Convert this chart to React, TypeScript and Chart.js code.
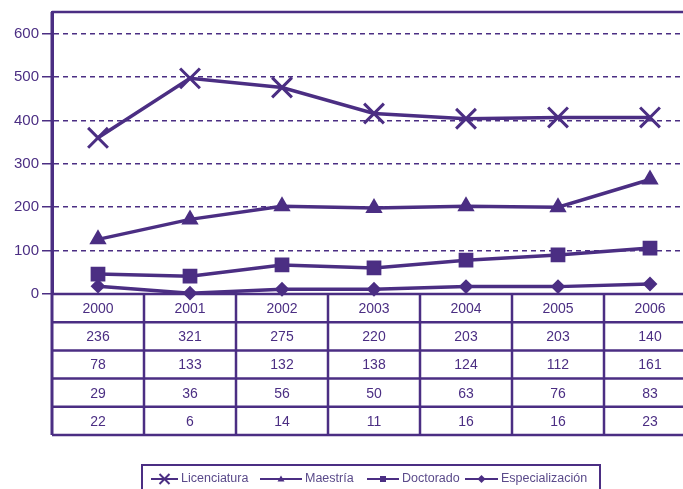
import { useEffect, useRef } from 'react';
import { Chart, registerables } from 'chart.js';
Chart.register(...registerables);

const years = ['2000', '2001', '2002', '2003', '2004', '2005', '2006'];
const licenciatura = [360, 497, 476, 416, 404, 407, 407];
const maestria = [126, 172, 202, 198, 202, 200, 264];
const doctorado = [46, 41, 67, 60, 78, 90, 106];
const especializacion = [18, 2, 11, 11, 17, 17, 23];
const seriesNames = ['Licenciatura', 'Maestría', 'Doctorado', 'Especialización'];
const tableRows = [
  [236, 321, 275, 220, 203, 203, 140],
  [78, 133, 132, 138, 124, 112, 161],
  [29, 36, 56, 50, 63, 76, 83],
  [22, 6, 14, 11, 16, 16, 23],
];
const yTicks = [0, 100, 200, 300, 400, 500, 600];

const PURPLE = '#4b2e83';
const FONT = '"Liberation Sans", Arial, sans-serif';
const ROW_H = 28.2;
const LEGEND_SYMBOL_X = [151, 260, 367, 465];
const LEGEND_SYMBOL_W = [27, 42, 32, 33];

function line(ctx: CanvasRenderingContext2D, x1: number, y1: number, x2: number, y2: number) {
  ctx.beginPath();
  ctx.moveTo(x1, y1);
  ctx.lineTo(x2, y2);
  ctx.stroke();
}

const tablePlugin = {
  id: 'tablePlugin',
  beforeDatasetsDraw(chart: any) {
    const { ctx, chartArea, scales } = chart;
    const x = scales.x;
    const left = chartArea.left;
    const right = chartArea.right;
    const top0 = chartArea.bottom;
    const nRows = 1 + tableRows.length;
    const bottom = top0 + nRows * ROW_H;
    ctx.save();
    ctx.strokeStyle = PURPLE;
    ctx.lineWidth = 2.5;
    line(ctx, left, chartArea.top, right, chartArea.top);
    for (let r = 0; r <= nRows; r++) {
      const y = top0 + r * ROW_H;
      line(ctx, left, y, right, y);
    }
    for (let i = 1; i < years.length; i++) {
      const xb = (x.getPixelForValue(i - 1) + x.getPixelForValue(i)) / 2;
      line(ctx, xb, top0, xb, bottom);
    }
    ctx.lineWidth = 3;
    line(ctx, left, chartArea.top, left, bottom);
    ctx.fillStyle = PURPLE;
    ctx.font = `14px ${FONT}`;
    ctx.textAlign = 'center';
    ctx.textBaseline = 'middle';
    years.forEach((yr, i) => {
      ctx.fillText(yr, x.getPixelForValue(i), top0 + ROW_H / 2 + 1);
    });
    tableRows.forEach((row, r) => {
      row.forEach((v, i) => {
        ctx.fillText(String(v), x.getPixelForValue(i), top0 + (r + 1.5) * ROW_H + 1);
      });
    });
    ctx.restore();
  },
  afterDraw(chart: any) {
    const { ctx } = chart;
    ctx.save();
    ctx.strokeStyle = PURPLE;
    ctx.lineWidth = 2;
    ctx.strokeRect(142, 465, 458, 40);
    const cy = 479;
    ctx.font = `12.5px ${FONT}`;
    ctx.textAlign = 'left';
    ctx.textBaseline = 'middle';
    chart.data.datasets.forEach((ds: any, i: number) => {
      const sx = LEGEND_SYMBOL_X[i];
      const sw = LEGEND_SYMBOL_W[i];
      ctx.strokeStyle = PURPLE;
      ctx.fillStyle = PURPLE;
      ctx.lineWidth = 2;
      line(ctx, sx, cy, sx + sw, cy);
      const cx = sx + sw / 2;
      const st = ds.pointStyle;
      ctx.beginPath();
      if (st === 'crossRot') {
        const r = 5;
        line(ctx, cx - r, cy - r, cx + r, cy + r);
        line(ctx, cx - r, cy + r, cx + r, cy - r);
      } else if (st === 'triangle') {
        ctx.moveTo(cx, cy - 3.5);
        ctx.lineTo(cx + 3.5, cy + 2.5);
        ctx.lineTo(cx - 3.5, cy + 2.5);
        ctx.closePath();
        ctx.fill();
      } else if (st === 'rect') {
        ctx.fillRect(cx - 3, cy - 3, 6, 6);
      } else {
        ctx.moveTo(cx, cy - 4);
        ctx.lineTo(cx + 4, cy);
        ctx.lineTo(cx, cy + 4);
        ctx.lineTo(cx - 4, cy);
        ctx.closePath();
        ctx.fill();
      }
      ctx.fillStyle = '#5a4a8a';
      ctx.fillText(ds.label, sx + sw + 3, cy);
    });
    ctx.restore();
  },
};

export default function App() {
  const ref = useRef<HTMLCanvasElement>(null);
  useEffect(() => {
    const common = {
      borderColor: PURPLE,
      backgroundColor: PURPLE,
      pointBorderColor: PURPLE,
      pointBackgroundColor: PURPLE,
      borderWidth: 3.5,
      tension: 0,
      clip: false as any,
    };
    const chart = new Chart(ref.current!, {
      type: 'line',
      data: {
        labels: years,
        datasets: [
          { ...common, label: seriesNames[0], data: licenciatura, pointStyle: 'crossRot', pointRadius: 14, pointBorderWidth: 3 },
          { ...common, label: seriesNames[1], data: maestria, pointStyle: 'triangle', pointRadius: 8, pointBorderWidth: 2 },
          { ...common, label: seriesNames[2], data: doctorado, pointStyle: 'rect', pointRadius: 9, pointBorderWidth: 2 },
          { ...common, label: seriesNames[3], data: especializacion, pointStyle: 'rectRot', pointRadius: 6, pointBorderWidth: 2 },
        ] as any,
      },
      options: {
        responsive: false,
        animation: false,
        layout: { autoPadding: false, padding: { top: 11, bottom: 195, left: 0, right: 4 } },
        plugins: { legend: { display: false }, tooltip: { enabled: false } },
        scales: {
          x: { type: 'category', offset: true, display: false },
          y: {
            min: 0,
            max: 650,
            afterBuildTicks: (scale: any) => {
              scale.ticks = yTicks.map((v) => ({ value: v }));
            },
            afterFit: (scale: any) => {
              scale.width = 52;
            },
            grid: {
              color: PURPLE,
              lineWidth: 1.5,
              drawTicks: true,
              tickLength: 10,
              tickColor: PURPLE,
              tickWidth: 1.5,
            },
            border: { display: true, color: PURPLE, width: 3, dash: [5, 4] },
            ticks: {
              color: PURPLE,
              padding: 3,
              font: { family: FONT, size: 15 },
            },
          },
        },
      },
      plugins: [tablePlugin],
    });
    return () => chart.destroy();
  }, []);
  return (
    <div style={{ position: 'fixed', left: 0, top: 0, width: 683, height: 489, overflow: 'hidden', background: '#fff' }}>
      <canvas ref={ref} width={700} height={489} style={{ display: 'block' }} />
    </div>
  );
}
